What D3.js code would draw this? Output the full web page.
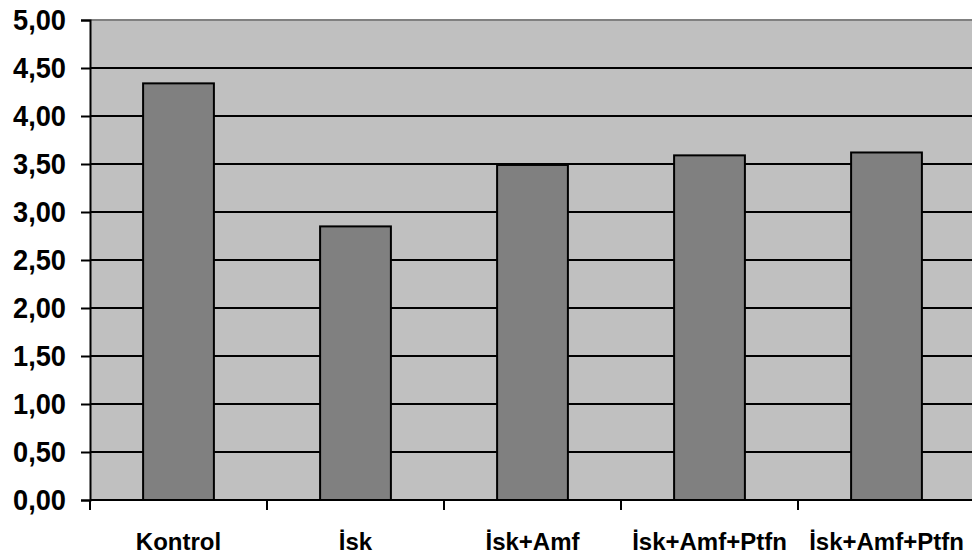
<!DOCTYPE html>
<html>
<head>
<meta charset="utf-8">
<script src="https://cdn.jsdelivr.net/npm/d3@7"></script>
<style>
body { margin:0; background:#fff; }
svg { display:block; }
</style>
</head>
<body>
<svg id="chart" width="972" height="559"></svg>
<script>
var categories = ['Kontrol', 'İsk', 'İsk+Amf', 'İsk+Amf+Ptfn', 'İsk+Amf+Ptfn']
var values = [4.34, 2.85, 3.49, 3.59, 3.62]
var yTicks = [0, 0.5, 1, 1.5, 2, 2.5, 3, 3.5, 4, 4.5, 5]

var chart = {
	left: 90,
	right: 975,
	top: 20,
	bottom: 500,
	font: '"Liberation Sans", Arial, sans-serif'
}

var svg = d3.select('#chart')

var x = d3.scaleBand()
	.domain(d3.range(categories.length))
	.range([chart.left, chart.right])
	.paddingInner(0.6)
	.paddingOuter(0.3)
var xb = d3.scaleBand()
	.domain(d3.range(categories.length))
	.range([chart.left, chart.right])
var y = d3.scaleLinear()
	.domain([0, 5])
	.range([chart.bottom, chart.top])

var fmt = function(d) { return d3.format('.2f')(d).replace('.', ',') }

// plot area
svg.append('rect')
	.attr('x', chart.left)
	.attr('y', chart.top)
	.attr('width', chart.right - chart.left)
	.attr('height', chart.bottom - chart.top)
	.attr('fill', '#c0c0c0')

svg.append('line')
	.attr('x1', chart.left).attr('x2', chart.right)
	.attr('y1', chart.top).attr('y2', chart.top)
	.attr('stroke', '#808080')
	.attr('stroke-width', 2)

// gridlines
svg.append('g')
	.selectAll('line')
	.data(yTicks.filter(function(d){ return d > 0 && d < 5 }))
	.join('line')
	.attr('x1', chart.left).attr('x2', chart.right)
	.attr('y1', function(d){ return y(d) }).attr('y2', function(d){ return y(d) })
	.attr('stroke', '#000')
	.attr('stroke-width', 2)

// bars
svg.append('g')
	.selectAll('rect')
	.data(values)
	.join('rect')
	.attr('x', function(d,i){ return x(i) })
	.attr('y', function(d){ return y(d) })
	.attr('width', x.bandwidth())
	.attr('height', function(d){ return y(0) - y(d) })
	.attr('fill', '#808080')
	.attr('stroke', '#000')
	.attr('stroke-width', 2)

// y axis
var yAxis = svg.append('g')
	.attr('transform', 'translate(' + chart.left + ',0)')
	.call(d3.axisLeft(y).tickValues(yTicks).tickFormat(fmt).tickSize(9).tickPadding(15))
yAxis.select('.domain').attr('stroke-width', 2)
yAxis.selectAll('.tick line').attr('stroke-width', 2)
yAxis.selectAll('text')
	.attr('fill', '#000')
	.attr('textLength', 53)
	.attr('lengthAdjust', 'spacingAndGlyphs')
	.style('font-family', chart.font)
	.style('font-weight', 'bold')
	.style('font-size', '30px')

// x axis
svg.append('line')
	.attr('x1', chart.left).attr('x2', chart.right)
	.attr('y1', chart.bottom).attr('y2', chart.bottom)
	.attr('stroke', '#000')
	.attr('stroke-width', 2)

svg.append('g')
	.selectAll('line')
	.data(d3.range(categories.length))
	.join('line')
	.attr('x1', function(d){ return xb(d) }).attr('x2', function(d){ return xb(d) })
	.attr('y1', chart.bottom).attr('y2', chart.bottom + 10)
	.attr('stroke', '#000')
	.attr('stroke-width', 2)

svg.append('g')
	.selectAll('text')
	.data(categories)
	.join('text')
	.attr('x', function(d,i){ return xb(i) + xb.bandwidth()/2 })
	.attr('y', 550)
	.attr('text-anchor', 'middle')
	.style('font-family', chart.font)
	.style('font-weight', 'bold')
	.style('font-size', '24px')
	.text(function(d){ return d })
</script>
</body>
</html>
